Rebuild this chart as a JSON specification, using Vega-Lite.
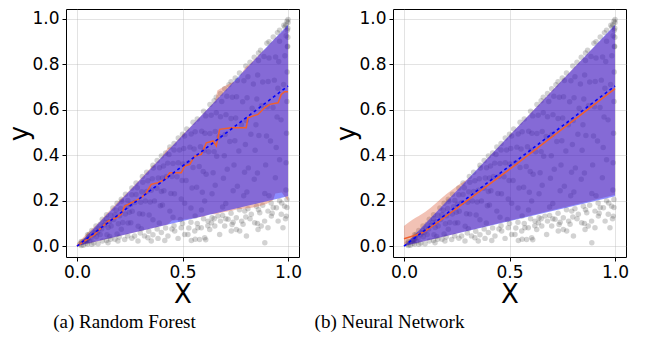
{
"$schema": "https://vega.github.io/schema/vega-lite/v6.json",
"padding": {"left": 6, "top": 8, "right": 5, "bottom": 5},
"spacing": 94,
"bounds": "flush",
"datasets": {
"pts": [
{"x":0.89,"y":0.015},{"x":0.676,"y":0.051},{"x":0.542,"y":0.025},{"x":0.581,"y":0.029},{"x":0.605,"y":0.037},{"x":0.731,"y":0.066},{"x":0.771,"y":0.066},{"x":0.803,"y":0.044},{"x":0.858,"y":0.073},{"x":0.905,"y":0.081},{"x":0.953,"y":0.11},{"x":0.976,"y":0.081},{"x":0.992,"y":0.132},{"x":0.984,"y":0.176},{"x":0.945,"y":0.169},{"x":0.905,"y":0.154},{"x":0.866,"y":0.147},{"x":0.826,"y":0.14},{"x":0.795,"y":0.154},{"x":0.755,"y":0.125},{"x":0.716,"y":0.118},{"x":0.668,"y":0.132},{"x":0.637,"y":0.103},{"x":0.629,"y":0.073},{"x":0.589,"y":0.081},{"x":0.558,"y":0.066},{"x":0.51,"y":0.051},{"x":0.494,"y":0.081},{"x":0.889,"y":0.11},{"x":0.842,"y":0.103},{"x":0.921,"y":0.132},{"x":0.968,"y":0.14},{"x":0.787,"y":0.096},{"x":0.7,"y":0.088},{"x":0.755,"y":0.073},{"x":0.873,"y":0.088},
{"x":0.226,"y":0.029},{"x":0.273,"y":0.044},{"x":0.336,"y":0.037},{"x":0.384,"y":0.034},{"x":0.431,"y":0.044},{"x":0.463,"y":0.066},{"x":0.526,"y":0.051},{"x":0.573,"y":0.081},{"x":0.621,"y":0.11},{"x":0.653,"y":0.088},{"x":0.705,"y":0.12},{"x":0.735,"y":0.095},{"x":0.8,"y":0.128},{"x":0.855,"y":0.1},{"x":0.925,"y":0.145},{"x":0.988,"y":0.12},{"x":0.194,"y":0.022},{"x":0.147,"y":0.015},{"x":0.1,"y":0.01},{"x":0.289,"y":0.022},{"x":0.352,"y":0.022},{"x":0.416,"y":0.025},{"x":0.479,"y":0.034},{"x":0.56,"y":0.03},{"x":0.61,"y":0.028},
{"x":0.05,"y":0.009},{"x":0.08,"y":0.014},{"x":0.12,"y":0.022},{"x":0.16,"y":0.03},{"x":0.2,"y":0.04},{"x":0.24,"y":0.045},{"x":0.3,"y":0.058},{"x":0.34,"y":0.065},{"x":0.38,"y":0.075},{"x":0.42,"y":0.08},{"x":0.46,"y":0.09},{"x":0.5,"y":0.1},{"x":0.54,"y":0.105},{"x":0.6,"y":0.12},{"x":0.64,"y":0.125},{"x":0.69,"y":0.135},{"x":0.73,"y":0.145},{"x":0.77,"y":0.16},{"x":0.81,"y":0.165},{"x":0.85,"y":0.175},{"x":0.88,"y":0.18},{"x":0.92,"y":0.19},{"x":0.96,"y":0.2},{"x":0.995,"y":0.205},{"x":0.995,"y":0.17},{"x":0.97,"y":0.19},{"x":0.93,"y":0.17},{"x":0.86,"y":0.16},{"x":0.82,"y":0.12},{"x":0.78,"y":0.11},{"x":0.74,"y":0.105},{"x":0.68,"y":0.11},{"x":0.65,"y":0.12},{"x":0.62,"y":0.09},{"x":0.57,"y":0.1},{"x":0.53,"y":0.08},{"x":0.45,"y":0.075},{"x":0.4,"y":0.06},{"x":0.36,"y":0.05},{"x":0.32,"y":0.045},{"x":0.26,"y":0.035},{"x":0.18,"y":0.03},{"x":0.14,"y":0.025},{"x":0.03,"y":0.004},{"x":0.02,"y":0.003},{"x":0.07,"y":0.008},
{"x":0.02,"y":0.02},{"x":0.05,"y":0.0495},{"x":0.07,"y":0.069},{"x":0.09,"y":0.089},{"x":0.12,"y":0.118},{"x":0.14,"y":0.138},{"x":0.17,"y":0.168},{"x":0.19,"y":0.1885},{"x":0.21,"y":0.206},{"x":0.23,"y":0.228},{"x":0.26,"y":0.256},{"x":0.28,"y":0.2775},{"x":0.31,"y":0.307},{"x":0.33,"y":0.325},{"x":0.36,"y":0.356},{"x":0.38,"y":0.377},{"x":0.4,"y":0.397},{"x":0.42,"y":0.41},{"x":0.44,"y":0.436},{"x":0.46,"y":0.452},{"x":0.48,"y":0.476},{"x":0.5,"y":0.493},{"x":0.52,"y":0.516},{"x":0.55,"y":0.545},{"x":0.57,"y":0.56},{"x":0.6,"y":0.594},{"x":0.63,"y":0.624},{"x":0.65,"y":0.64},{"x":0.66,"y":0.655},{"x":0.68,"y":0.672},{"x":0.7,"y":0.693},{"x":0.72,"y":0.71},{"x":0.73,"y":0.724},{"x":0.75,"y":0.74},{"x":0.77,"y":0.762},{"x":0.8,"y":0.793},{"x":0.82,"y":0.81},{"x":0.84,"y":0.832},{"x":0.86,"y":0.85},{"x":0.87,"y":0.862},{"x":0.9,"y":0.893},{"x":0.91,"y":0.9},{"x":0.93,"y":0.921},{"x":0.95,"y":0.94},{"x":0.96,"y":0.951},{"x":0.98,"y":0.972},{"x":0.99,"y":0.975},{"x":0.995,"y":0.99},{"x":1.0,"y":0.998},{"x":0.985,"y":0.965},{"x":1.0,"y":0.985},{"x":0.997,"y":0.95},{"x":0.999,"y":0.92},{"x":0.998,"y":0.88},
{"x":0.015,"y":0.0105},{"x":0.022,"y":0.0165},{"x":0.034,"y":0.0216},{"x":0.04,"y":0.0258},{"x":0.046,"y":0.0282},
{"x":0.06,"y":0.021},{"x":0.067,"y":0.036},{"x":0.079,"y":0.0495},{"x":0.085,"y":0.0593},{"x":0.091,"y":0.0683},
{"x":0.11,"y":0.0513},{"x":0.117,"y":0.075},{"x":0.129,"y":0.0925},{"x":0.135,"y":0.1038},{"x":0.141,"y":0.12},
{"x":0.155,"y":0.0425},{"x":0.162,"y":0.0884},{"x":0.174,"y":0.1173},{"x":0.18,"y":0.1377},{"x":0.186,"y":0.1581},
{"x":0.21,"y":0.0743},{"x":0.217,"y":0.1035},{"x":0.229,"y":0.1418},{"x":0.235,"y":0.1733},{"x":0.241,"y":0.2003},
{"x":0.255,"y":0.1026},{"x":0.262,"y":0.1539},{"x":0.274,"y":0.1917},{"x":0.28,"y":0.2268},{"x":0.286,"y":0.2565},
{"x":0.305,"y":0.0768},{"x":0.312,"y":0.1408},{"x":0.324,"y":0.1984},{"x":0.33,"y":0.24},{"x":0.336,"y":0.288},
{"x":0.36,"y":0.1163},{"x":0.367,"y":0.1988},{"x":0.379,"y":0.255},{"x":0.385,"y":0.3},{"x":0.391,"y":0.345},
{"x":0.405,"y":0.1806},{"x":0.412,"y":0.2436},{"x":0.424,"y":0.3066},{"x":0.43,"y":0.3654},{"x":0.436,"y":0.4032},
{"x":0.455,"y":0.1269},{"x":0.462,"y":0.2303},{"x":0.474,"y":0.3055},{"x":0.48,"y":0.3666},{"x":0.486,"y":0.423},
{"x":0.51,"y":0.189},{"x":0.517,"y":0.2888},{"x":0.529,"y":0.3675},{"x":0.535,"y":0.4358},{"x":0.541,"y":0.4935},
{"x":0.56,"y":0.1323},{"x":0.567,"y":0.2588},{"x":0.579,"y":0.3508},{"x":0.585,"y":0.437},{"x":0.591,"y":0.506},
{"x":0.605,"y":0.1984},{"x":0.612,"y":0.3162},{"x":0.624,"y":0.4154},{"x":0.63,"y":0.496},{"x":0.636,"y":0.5766},
{"x":0.655,"y":0.268},{"x":0.662,"y":0.3953},{"x":0.674,"y":0.4824},{"x":0.68,"y":0.5695},{"x":0.686,"y":0.6365},
{"x":0.705,"y":0.1872},{"x":0.712,"y":0.3384},{"x":0.724,"y":0.4608},{"x":0.73,"y":0.5616},{"x":0.736,"y":0.6552},
{"x":0.76,"y":0.2635},{"x":0.767,"y":0.4185},{"x":0.779,"y":0.5348},{"x":0.785,"y":0.6355},{"x":0.791,"y":0.7285},
{"x":0.805,"y":0.2378},{"x":0.812,"y":0.3444},{"x":0.824,"y":0.492},{"x":0.83,"y":0.6068},{"x":0.836,"y":0.7134},
{"x":0.855,"y":0.3219},{"x":0.862,"y":0.4872},{"x":0.874,"y":0.6177},{"x":0.88,"y":0.7221},{"x":0.886,"y":0.8352},
{"x":0.91,"y":0.222},{"x":0.917,"y":0.4625},{"x":0.929,"y":0.6105},{"x":0.935,"y":0.7308},{"x":0.941,"y":0.8325},
{"x":0.96,"y":0.3803},{"x":0.967,"y":0.5558},{"x":0.979,"y":0.7118},{"x":0.985,"y":0.8385},{"x":0.991,"y":0.9263},
{"x":0.042,"y":0.0126},{"x":0.047,"y":0.0235},{"x":0.052,"y":0.0338},{"x":0.055,"y":0.044},{"x":0.058,"y":0.0522},
{"x":0.092,"y":0.0414},{"x":0.098,"y":0.0608},{"x":0.104,"y":0.078},{"x":0.11,"y":0.0968},
{"x":0.142,"y":0.0497},{"x":0.148,"y":0.0814},{"x":0.154,"y":0.1078},{"x":0.16,"y":0.136},
{"x":0.19,"y":0.0532},{"x":0.196,"y":0.098},{"x":0.202,"y":0.1333},{"x":0.207,"y":0.1656},{"x":0.212,"y":0.1972},
{"x":0.242,"y":0.1016},{"x":0.248,"y":0.1488},{"x":0.254,"y":0.1829},{"x":0.26,"y":0.2262},
{"x":0.29,"y":0.087},{"x":0.296,"y":0.1421},{"x":0.302,"y":0.1933},{"x":0.307,"y":0.2395},{"x":0.312,"y":0.2808},
{"x":0.342,"y":0.1368},{"x":0.347,"y":0.1943},{"x":0.352,"y":0.2464},{"x":0.357,"y":0.2963},{"x":0.362,"y":0.3439},
{"x":0.39,"y":0.1014},{"x":0.395,"y":0.1778},{"x":0.4,"y":0.24},{"x":0.405,"y":0.2997},{"x":0.41,"y":0.3526},
{"x":0.44,"y":0.154},{"x":0.445,"y":0.2314},{"x":0.45,"y":0.306},{"x":0.455,"y":0.364},{"x":0.46,"y":0.4232},
{"x":0.49,"y":0.1176},{"x":0.494,"y":0.2075},{"x":0.498,"y":0.2888},{"x":0.502,"y":0.3614},{"x":0.506,"y":0.4301},{"x":0.51,"y":0.4845},
{"x":0.54,"y":0.1674},{"x":0.545,"y":0.2562},{"x":0.55,"y":0.3465},{"x":0.555,"y":0.4274},{"x":0.56,"y":0.504},
{"x":0.59,"y":0.1593},{"x":0.594,"y":0.2376},{"x":0.598,"y":0.3289},{"x":0.602,"y":0.4214},{"x":0.606,"y":0.4969},{"x":0.61,"y":0.5734},
{"x":0.64,"y":0.2304},{"x":0.645,"y":0.3225},{"x":0.65,"y":0.416},{"x":0.655,"y":0.5044},{"x":0.66,"y":0.5874},
{"x":0.69,"y":0.1725},{"x":0.694,"y":0.2984},{"x":0.698,"y":0.3979},{"x":0.702,"y":0.4914},{"x":0.706,"y":0.5789},{"x":0.71,"y":0.6603},
{"x":0.74,"y":0.2442},{"x":0.744,"y":0.3571},{"x":0.748,"y":0.4638},{"x":0.752,"y":0.564},{"x":0.756,"y":0.6577},{"x":0.76,"y":0.7296},
{"x":0.79,"y":0.2212},{"x":0.794,"y":0.3255},{"x":0.798,"y":0.4469},{"x":0.802,"y":0.5534},{"x":0.806,"y":0.6529},{"x":0.81,"y":0.7452},
{"x":0.84,"y":0.294},{"x":0.844,"y":0.422},{"x":0.848,"y":0.5342},{"x":0.852,"y":0.6475},{"x":0.856,"y":0.7533},{"x":0.86,"y":0.817},
{"x":0.89,"y":0.2314},{"x":0.894,"y":0.3576},{"x":0.898,"y":0.4849},{"x":0.902,"y":0.6134},{"x":0.906,"y":0.7248},{"x":0.91,"y":0.8281},
{"x":0.94,"y":0.3008},{"x":0.944,"y":0.4342},{"x":0.948,"y":0.5688},{"x":0.952,"y":0.695},{"x":0.956,"y":0.8126},{"x":0.96,"y":0.9024},
{"x":0.99,"y":0.2475},{"x":0.991,"y":0.3667},{"x":0.993,"y":0.4965},{"x":0.995,"y":0.6368},{"x":0.996,"y":0.7669},{"x":0.997,"y":0.8774},{"x":0.999,"y":0.959}
],
"bands": [
{"panel":"RF","kind":"blue","x":0,"lo":0,"hi":0},
{"panel":"RF","kind":"blue","x":1,"lo":0.22,"hi":0.975},
{"panel":"NN","kind":"blue","x":0,"lo":0,"hi":0},
{"panel":"NN","kind":"blue","x":1,"lo":0.22,"hi":0.975},
{"panel":"RF","kind":"red","x":0,"lo":0,"hi":0.01},
{"panel":"RF","kind":"red","x":0.05,"lo":0.011,"hi":0.058},
{"panel":"RF","kind":"red","x":0.1,"lo":0.021,"hi":0.1},
{"panel":"RF","kind":"red","x":0.15,"lo":0.033,"hi":0.152},
{"panel":"RF","kind":"red","x":0.2,"lo":0.044,"hi":0.2},
{"panel":"RF","kind":"red","x":0.25,"lo":0.055,"hi":0.246},
{"panel":"RF","kind":"red","x":0.3,"lo":0.066,"hi":0.295},
{"panel":"RF","kind":"red","x":0.35,"lo":0.077,"hi":0.345},
{"panel":"RF","kind":"red","x":0.4,"lo":0.088,"hi":0.39},
{"panel":"RF","kind":"red","x":0.43,"lo":0.095,"hi":0.432},
{"panel":"RF","kind":"red","x":0.45,"lo":0.113,"hi":0.44},
{"panel":"RF","kind":"red","x":0.5,"lo":0.116,"hi":0.49},
{"panel":"RF","kind":"red","x":0.55,"lo":0.123,"hi":0.537},
{"panel":"RF","kind":"red","x":0.57,"lo":0.126,"hi":0.556},
{"panel":"RF","kind":"red","x":0.6,"lo":0.13,"hi":0.585},
{"panel":"RF","kind":"red","x":0.63,"lo":0.141,"hi":0.615},
{"panel":"RF","kind":"red","x":0.655,"lo":0.14,"hi":0.64},
{"panel":"RF","kind":"red","x":0.665,"lo":0.142,"hi":0.685},
{"panel":"RF","kind":"red","x":0.7,"lo":0.15,"hi":0.705},
{"panel":"RF","kind":"red","x":0.735,"lo":0.156,"hi":0.72},
{"panel":"RF","kind":"red","x":0.76,"lo":0.162,"hi":0.73},
{"panel":"RF","kind":"red","x":0.8,"lo":0.166,"hi":0.79},
{"panel":"RF","kind":"red","x":0.82,"lo":0.168,"hi":0.802},
{"panel":"RF","kind":"red","x":0.86,"lo":0.174,"hi":0.84},
{"panel":"RF","kind":"red","x":0.9,"lo":0.187,"hi":0.875},
{"panel":"RF","kind":"red","x":0.93,"lo":0.203,"hi":0.905},
{"panel":"RF","kind":"red","x":0.94,"lo":0.232,"hi":0.915},
{"panel":"RF","kind":"red","x":0.97,"lo":0.236,"hi":0.94},
{"panel":"RF","kind":"red","x":0.99,"lo":0.212,"hi":0.96},
{"panel":"RF","kind":"red","x":1.0,"lo":0.2,"hi":0.965},
{"panel":"NN","kind":"red","x":0,"lo":0,"hi":0.088},
{"panel":"NN","kind":"red","x":0.04,"lo":0.009,"hi":0.116},
{"panel":"NN","kind":"red","x":0.1,"lo":0.022,"hi":0.15},
{"panel":"NN","kind":"red","x":0.15,"lo":0.034,"hi":0.188},
{"panel":"NN","kind":"red","x":0.2,"lo":0.045,"hi":0.228},
{"panel":"NN","kind":"red","x":0.25,"lo":0.056,"hi":0.264},
{"panel":"NN","kind":"red","x":0.3,"lo":0.068,"hi":0.294},
{"panel":"NN","kind":"red","x":0.4,"lo":0.09,"hi":0.39},
{"panel":"NN","kind":"red","x":0.6,"lo":0.135,"hi":0.585},
{"panel":"NN","kind":"red","x":0.8,"lo":0.18,"hi":0.78},
{"panel":"NN","kind":"red","x":1.0,"lo":0.226,"hi":0.97}
],
"lines": [
{"panel":"RF","kind":"blue","x":0,"y":0},
{"panel":"RF","kind":"blue","x":1,"y":0.705},
{"panel":"NN","kind":"blue","x":0,"y":0},
{"panel":"NN","kind":"blue","x":1,"y":0.705},
{"panel":"NN","kind":"red","x":0,"y":0.032},
{"panel":"NN","kind":"red","x":0.05,"y":0.047},
{"panel":"NN","kind":"red","x":0.09,"y":0.06},
{"panel":"NN","kind":"red","x":0.13,"y":0.085},
{"panel":"NN","kind":"red","x":0.5,"y":0.338},
{"panel":"NN","kind":"red","x":1,"y":0.693},
{"panel":"RF","kind":"red","x":0,"y":0.0},
{"panel":"RF","kind":"red","x":0.036,"y":0.022},
{"panel":"RF","kind":"red","x":0.084,"y":0.051},
{"panel":"RF","kind":"red","x":0.115,"y":0.081},
{"panel":"RF","kind":"red","x":0.147,"y":0.11},
{"panel":"RF","kind":"red","x":0.186,"y":0.125},
{"panel":"RF","kind":"red","x":0.21,"y":0.14},
{"panel":"RF","kind":"red","x":0.226,"y":0.176},
{"panel":"RF","kind":"red","x":0.273,"y":0.198},
{"panel":"RF","kind":"red","x":0.305,"y":0.213},
{"panel":"RF","kind":"red","x":0.328,"y":0.235},
{"panel":"RF","kind":"red","x":0.352,"y":0.272},
{"panel":"RF","kind":"red","x":0.384,"y":0.279},
{"panel":"RF","kind":"red","x":0.416,"y":0.294},
{"panel":"RF","kind":"red","x":0.439,"y":0.323},
{"panel":"RF","kind":"red","x":0.494,"y":0.323},
{"panel":"RF","kind":"red","x":0.51,"y":0.352},
{"panel":"RF","kind":"red","x":0.534,"y":0.36},
{"panel":"RF","kind":"red","x":0.558,"y":0.396},
{"panel":"RF","kind":"red","x":0.589,"y":0.404},
{"panel":"RF","kind":"red","x":0.613,"y":0.455},
{"panel":"RF","kind":"red","x":0.645,"y":0.463},
{"panel":"RF","kind":"red","x":0.66,"y":0.441},
{"panel":"RF","kind":"red","x":0.668,"y":0.477},
{"panel":"RF","kind":"red","x":0.676,"y":0.514},
{"panel":"RF","kind":"red","x":0.731,"y":0.521},
{"panel":"RF","kind":"red","x":0.802,"y":0.521},
{"panel":"RF","kind":"red","x":0.81,"y":0.565},
{"panel":"RF","kind":"red","x":0.858,"y":0.58},
{"panel":"RF","kind":"red","x":0.889,"y":0.609},
{"panel":"RF","kind":"red","x":0.913,"y":0.624},
{"panel":"RF","kind":"red","x":0.953,"y":0.631},
{"panel":"RF","kind":"red","x":0.968,"y":0.668},
{"panel":"RF","kind":"red","x":0.984,"y":0.68},
{"panel":"RF","kind":"red","x":1.0,"y":0.68}
]
},
"hconcat": [
{
"width": 233, "height": 248,
"title": {"text": "(a) Random Forest", "dx": -58},
"layer": [
{"data": {"name": "pts"}, "mark": {"type": "circle", "size": 30, "color": "#333333", "opacity": 0.22},
 "encoding": {"x": {"field": "x", "type": "quantitative", "title": "X", "scale": {"domain": [-0.052, 1.052], "nice": false, "zero": false}, "axis": {"values": [0, 0.5, 1], "format": ".1f"}},
  "y": {"field": "y", "type": "quantitative", "title": "y", "scale": {"domain": [-0.048, 1.044], "nice": false, "zero": false}, "axis": {"values": [0, 0.2, 0.4, 0.6, 0.8, 1.0], "format": ".1f"}}}},
{"data": {"name": "bands"}, "transform": [{"filter": "datum.panel === 'RF' && datum.kind === 'red'"}], "mark": {"type": "area", "color": "#d9502a", "opacity": 0.35},
 "encoding": {"x": {"field": "x", "type": "quantitative", "title": "X"}, "y": {"field": "lo", "type": "quantitative", "title": "y"}, "y2": {"field": "hi"}}},
{"data": {"name": "bands"}, "transform": [{"filter": "datum.panel === 'RF' && datum.kind === 'blue'"}], "mark": {"type": "area", "color": "#0000ff", "opacity": 0.45},
 "encoding": {"x": {"field": "x", "type": "quantitative", "title": "X"}, "y": {"field": "lo", "type": "quantitative", "title": "y"}, "y2": {"field": "hi"}}},
{"data": {"name": "lines"}, "transform": [{"filter": "datum.panel === 'RF' && datum.kind === 'red'"}], "mark": {"type": "line", "color": "#f0602c", "strokeWidth": 1.5},
 "encoding": {"x": {"field": "x", "type": "quantitative", "title": "X"}, "y": {"field": "y", "type": "quantitative", "title": "y"}}},
{"data": {"name": "lines"}, "transform": [{"filter": "datum.panel === 'RF' && datum.kind === 'blue'"}], "mark": {"type": "line", "color": "#0000ff", "strokeWidth": 1.6, "strokeDash": [3, 3]},
 "encoding": {"x": {"field": "x", "type": "quantitative", "title": "X"}, "y": {"field": "y", "type": "quantitative", "title": "y"}}}
]
},
{
"width": 233, "height": 248,
"title": {"text": "(b) Neural Network", "dx": -120},
"layer": [
{"data": {"name": "pts"}, "mark": {"type": "circle", "size": 30, "color": "#333333", "opacity": 0.22},
 "encoding": {"x": {"field": "x", "type": "quantitative", "title": "X", "scale": {"domain": [-0.052, 1.052], "nice": false, "zero": false}, "axis": {"values": [0, 0.5, 1], "format": ".1f"}},
  "y": {"field": "y", "type": "quantitative", "title": "y", "scale": {"domain": [-0.048, 1.044], "nice": false, "zero": false}, "axis": {"values": [0, 0.2, 0.4, 0.6, 0.8, 1.0], "format": ".1f"}}}},
{"data": {"name": "bands"}, "transform": [{"filter": "datum.panel === 'NN' && datum.kind === 'red'"}], "mark": {"type": "area", "color": "#d9502a", "opacity": 0.35, "interpolate": "monotone"},
 "encoding": {"x": {"field": "x", "type": "quantitative", "title": "X"}, "y": {"field": "lo", "type": "quantitative", "title": "y"}, "y2": {"field": "hi"}}},
{"data": {"name": "bands"}, "transform": [{"filter": "datum.panel === 'NN' && datum.kind === 'blue'"}], "mark": {"type": "area", "color": "#0000ff", "opacity": 0.45},
 "encoding": {"x": {"field": "x", "type": "quantitative", "title": "X"}, "y": {"field": "lo", "type": "quantitative", "title": "y"}, "y2": {"field": "hi"}}},
{"data": {"name": "lines"}, "transform": [{"filter": "datum.panel === 'NN' && datum.kind === 'red'"}], "mark": {"type": "line", "color": "#f0602c", "strokeWidth": 1.5},
 "encoding": {"x": {"field": "x", "type": "quantitative", "title": "X"}, "y": {"field": "y", "type": "quantitative", "title": "y"}}},
{"data": {"name": "lines"}, "transform": [{"filter": "datum.panel === 'NN' && datum.kind === 'blue'"}], "mark": {"type": "line", "color": "#0000ff", "strokeWidth": 1.6, "strokeDash": [3, 3]},
 "encoding": {"x": {"field": "x", "type": "quantitative", "title": "X"}, "y": {"field": "y", "type": "quantitative", "title": "y"}}}
]
}
],
"config": {
"view": {"stroke": "#000000", "strokeWidth": 1},
"axis": {"domain": false, "grid": true, "gridColor": "#b0b0b0", "gridOpacity": 0.35, "gridWidth": 1, "zindex": 1, "tickColor": "#000000", "tickSize": 4, "labelFont": "DejaVu Sans", "labelFontSize": 17, "labelColor": "#000000", "labelFlush": false, "labelOverlap": false, "titleFont": "DejaVu Sans", "titleFontSize": 26, "titleFontWeight": "normal", "titleColor": "#000000", "labelPadding": 3},
"axisX": {"titlePadding": 1},
"axisY": {"titlePadding": -1},
"title": {"orient": "bottom", "font": "Liberation Serif", "fontSize": 19, "fontWeight": "normal", "color": "#000000", "offset": 6, "frame": "group", "anchor": "middle"}
}
}
